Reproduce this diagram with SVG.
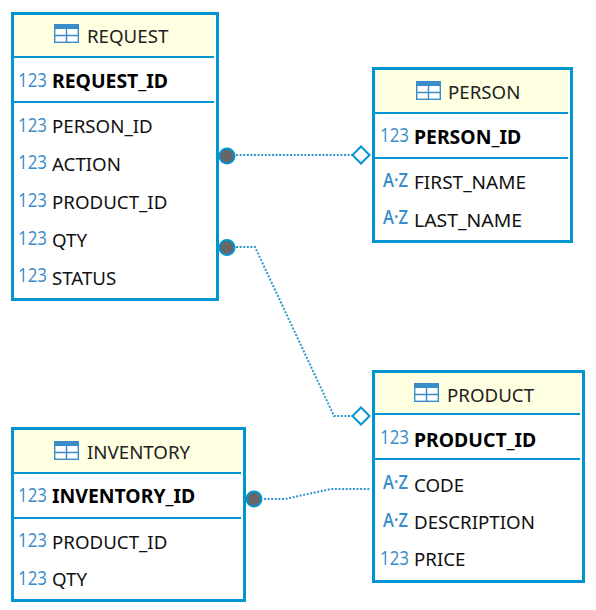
<svg xmlns="http://www.w3.org/2000/svg" width="596" height="610" viewBox="0 0 596 610">
<defs>
<style>
text{font-family:"Noto Sans","Open Sans","Liberation Sans",sans-serif}
.box{fill:#fff;stroke:#0095d0;stroke-width:3}
.hdr{fill:#ffffe1}
.sep{stroke:#0095d0;stroke-width:2;fill:none}
.t{font-size:18.7px;fill:#111}
.title{font-size:18.7px;fill:#222}
.b{font-size:19.4px;font-weight:700;fill:#000}
.i{font-size:20px;fill:#3a8cc8;font-family:"Open Sans","Noto Sans",sans-serif;font-weight:400}
.a{font-size:19px;fill:#3a8cc8;font-family:"Open Sans","Noto Sans",sans-serif;font-weight:600}
.conn{fill:none;stroke:#2f97cf;stroke-width:2;stroke-dasharray:2 1.6}
.dot{fill:#666;stroke:#0095d0;stroke-width:2}
.dia{fill:#fff;stroke:#0095d0;stroke-width:2}
.ti{fill:#fff;stroke:#3a8cc8;stroke-width:1.4}
.tih{fill:#3a8cc8}
</style>
<g id="tbl"><rect class="ti" x="0.7" y="0.7" width="23.6" height="17.6"/><rect class="tih" width="25" height="5"/><path class="ti" d="M12.5 5V18M1 11.500H24"/></g>
</defs>
<g id="connectors">
<path class="conn" d="M236 155H353"/>
<path class="conn" d="M236 247H255L334 416H352"/>
<path class="conn" d="M264 499H285L331 489H370"/>
</g>
<g id="request">
<rect class="box" x="12.5" y="13.5" width="205" height="286"/>
<rect class="hdr" x="14" y="15" width="200" height="41"/>
<path class="sep" d="M14 57H214M14 102H214"/>
<use href="#tbl" x="54" y="24"/>
<text class="title" x="87" y="43">REQUEST</text>
<text class="i" x="18" y="87" textLength="29" lengthAdjust="spacingAndGlyphs">123</text><text class="b" x="52" y="88">REQUEST_ID</text>
<text class="i" x="18" y="132" textLength="29" lengthAdjust="spacingAndGlyphs">123</text><text class="t" x="52" y="133">PERSON_ID</text>
<text class="i" x="18" y="169" textLength="29" lengthAdjust="spacingAndGlyphs">123</text><text class="t" x="52" y="171">ACTION</text>
<text class="i" x="18" y="207" textLength="29" lengthAdjust="spacingAndGlyphs">123</text><text class="t" x="52" y="209">PRODUCT_ID</text>
<text class="i" x="18" y="245" textLength="29" lengthAdjust="spacingAndGlyphs">123</text><text class="t" x="52" y="247">QTY</text>
<text class="i" x="18" y="282" textLength="29" lengthAdjust="spacingAndGlyphs">123</text><text class="t" x="52" y="285">STATUS</text>
</g>
<g id="person">
<rect class="box" x="373.5" y="68.5" width="198" height="173"/>
<rect class="hdr" x="375" y="70" width="193" height="42"/>
<path class="sep" d="M375 113H568M375 158H568"/>
<use href="#tbl" x="416" y="81"/>
<text class="title" x="448" y="99">PERSON</text>
<text class="i" x="380" y="142" textLength="29" lengthAdjust="spacingAndGlyphs">123</text><text class="b" x="414" y="144">PERSON_ID</text>
<text class="a" x="383" y="187" textLength="25" lengthAdjust="spacingAndGlyphs">A·Z</text><text class="t" x="414" y="189" textLength="112" lengthAdjust="spacingAndGlyphs">FIRST_NAME</text>
<text class="a" x="383" y="224" textLength="25" lengthAdjust="spacingAndGlyphs">A·Z</text><text class="t" x="414" y="227" textLength="108" lengthAdjust="spacingAndGlyphs">LAST_NAME</text>
</g>
<g id="product">
<rect class="box" x="373.5" y="371.5" width="210" height="210"/>
<rect class="hdr" x="375" y="373" width="205" height="40"/>
<path class="sep" d="M375 414H580M375 459H580"/>
<use href="#tbl" x="414" y="383"/>
<text class="title" x="447" y="402">PRODUCT</text>
<text class="i" x="380" y="444" textLength="29" lengthAdjust="spacingAndGlyphs">123</text><text class="b" x="414" y="447">PRODUCT_ID</text>
<text class="a" x="383" y="489" textLength="25" lengthAdjust="spacingAndGlyphs">A·Z</text><text class="t" x="414" y="492">CODE</text>
<text class="a" x="383" y="527" textLength="25" lengthAdjust="spacingAndGlyphs">A·Z</text><text class="t" x="414" y="529">DESCRIPTION</text>
<text class="i" x="380" y="565" textLength="29" lengthAdjust="spacingAndGlyphs">123</text><text class="t" x="414" y="566">PRICE</text>
</g>
<g id="inventory">
<rect class="box" x="12.5" y="428.5" width="232" height="172"/>
<rect class="hdr" x="14" y="430" width="227" height="42"/>
<path class="sep" d="M14 473H241M14 518H241"/>
<use href="#tbl" x="54" y="441"/>
<text class="title" x="87" y="459">INVENTORY</text>
<text class="i" x="18" y="502" textLength="29" lengthAdjust="spacingAndGlyphs">123</text><text class="b" x="52" y="503">INVENTORY_ID</text>
<text class="i" x="18" y="547" textLength="29" lengthAdjust="spacingAndGlyphs">123</text><text class="t" x="52" y="549">PRODUCT_ID</text>
<text class="i" x="18" y="585" textLength="29" lengthAdjust="spacingAndGlyphs">123</text><text class="t" x="52" y="586">QTY</text>
</g>
<g id="ends">
<circle class="dot" cx="227" cy="156" r="7.5"/>
<circle class="dot" cx="227" cy="247.500" r="7.5"/>
<circle class="dot" cx="254" cy="499" r="7.5"/>
<path class="dia" d="M361 146.500L369.500 155L361 163.500L352.500 155Z"/>
<path class="dia" d="M361 407.500L369.500 416L361 424.500L352.500 416Z"/>
</g>
</svg>
